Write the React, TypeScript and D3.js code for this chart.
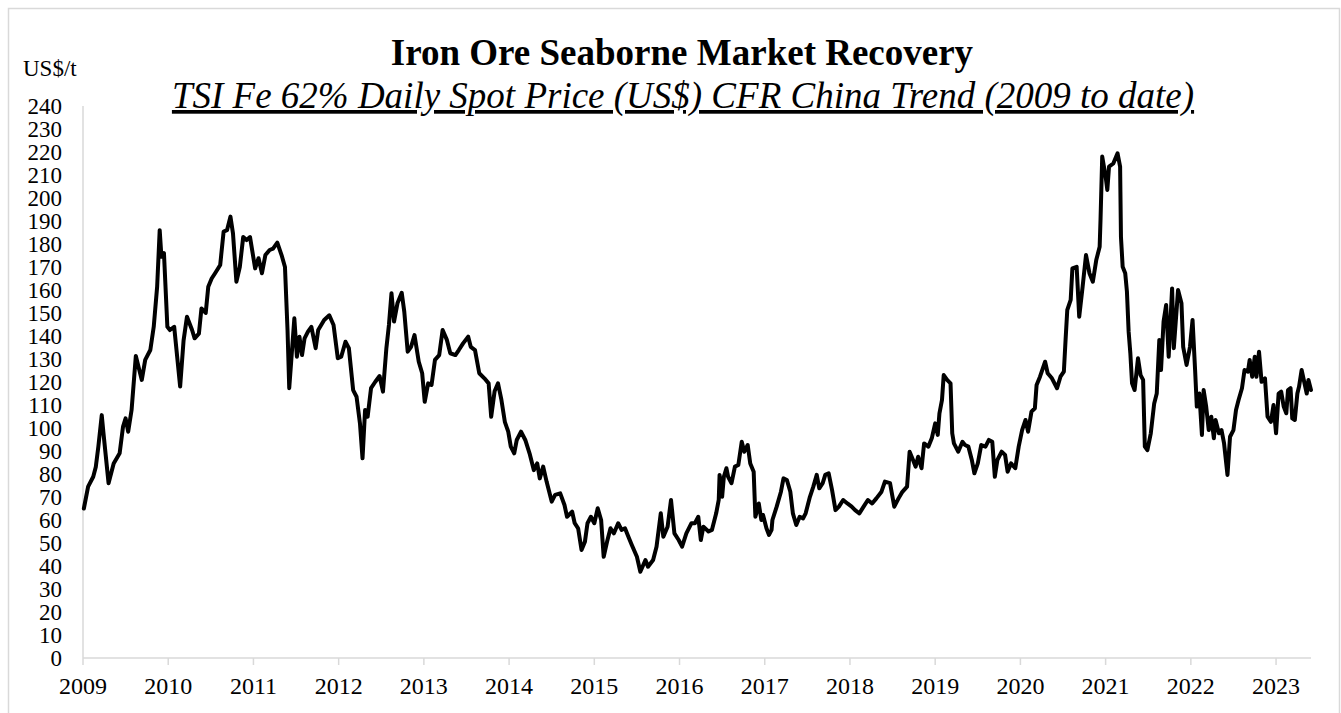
import React from "react";
import * as d3 from "d3";

const title = "Iron Ore Seaborne Market Recovery";
const subtitle = "TSI Fe 62% Daily Spot Price (US$) CFR China Trend (2009 to date)";
const unitLabel = "US$/t";

const yearTicks = [2009, 2010, 2011, 2012, 2013, 2014, 2015, 2016, 2017, 2018, 2019, 2020, 2021, 2022, 2023];
const valueTicks = [0, 10, 20, 30, 40, 50, 60, 70, 80, 90, 100, 110, 120, 130, 140, 150, 160, 170, 180, 190, 200, 210, 220, 230, 240];

// decimal-year dates and spot prices (US$/t)
const dates = [
  2009.01, 2009.06, 2009.12, 2009.15, 2009.18, 2009.22, 2009.24, 2009.30, 2009.36, 2009.43,
  2009.47, 2009.50, 2009.53, 2009.57, 2009.62, 2009.69, 2009.73, 2009.79, 2009.83, 2009.87,
  2009.90, 2009.92, 2009.95, 2009.99, 2010.02, 2010.07, 2010.14, 2010.18, 2010.22, 2010.28,
  2010.31, 2010.36, 2010.39, 2010.44, 2010.47, 2010.51, 2010.55, 2010.61, 2010.65, 2010.69,
  2010.73, 2010.76, 2010.80, 2010.84, 2010.88, 2010.92, 2010.96, 2011.02, 2011.06, 2011.10,
  2011.14, 2011.19, 2011.23, 2011.28, 2011.33, 2011.37, 2011.40, 2011.42,
  2011.45, 2011.48, 2011.51, 2011.54, 2011.57, 2011.60, 2011.64, 2011.68, 2011.73, 2011.76,
  2011.83, 2011.89, 2011.94, 2011.99, 2012.03, 2012.08, 2012.12, 2012.17, 2012.21, 2012.25,
  2012.28, 2012.31, 2012.34, 2012.38, 2012.43, 2012.48, 2012.52, 2012.56, 2012.59, 2012.62,
  2012.65, 2012.69, 2012.74, 2012.77, 2012.81, 2012.85, 2012.89, 2012.94, 2012.98, 2013.01,
  2013.05, 2013.09, 2013.13, 2013.18, 2013.22, 2013.27, 2013.31, 2013.37, 2013.41, 2013.46,
  2013.52, 2013.55, 2013.60, 2013.65, 2013.71, 2013.76, 2013.79, 2013.83,
  2013.87, 2013.91, 2013.95, 2013.99, 2014.02, 2014.06, 2014.09, 2014.14, 2014.19, 2014.24,
  2014.29, 2014.33, 2014.36, 2014.40, 2014.44, 2014.50, 2014.54, 2014.60, 2014.65, 2014.68,
  2014.74, 2014.77, 2014.81, 2014.85, 2014.89, 2014.92, 2014.96, 2015.00, 2015.04, 2015.08,
  2015.11, 2015.15, 2015.19, 2015.23, 2015.28, 2015.32, 2015.36, 2015.40, 2015.44, 2015.50,
  2015.54, 2015.60, 2015.63, 2015.69, 2015.73, 2015.78, 2015.81, 2015.86, 2015.90, 2015.94,
  2015.99, 2016.03, 2016.08, 2016.14,
  2016.18, 2016.22, 2016.25, 2016.28, 2016.34, 2016.38, 2016.43, 2016.46, 2016.47, 2016.50,
  2016.52, 2016.55, 2016.57, 2016.61, 2016.65, 2016.69, 2016.73, 2016.76, 2016.80, 2016.83,
  2016.87, 2016.89, 2016.93, 2016.96, 2016.98, 2017.02, 2017.05, 2017.08, 2017.09, 2017.14,
  2017.19, 2017.22, 2017.26, 2017.30, 2017.33, 2017.37, 2017.41, 2017.45, 2017.48, 2017.53,
  2017.57, 2017.61, 2017.64, 2017.68, 2017.71, 2017.75, 2017.79, 2017.83, 2017.87, 2017.92,
  2017.97, 2018.02, 2018.06, 2018.11, 2018.16, 2018.21, 2018.26, 2018.31, 2018.37, 2018.41,
  2018.47, 2018.52, 2018.57, 2018.61, 2018.67,
  2018.70, 2018.74, 2018.77, 2018.80, 2018.84, 2018.87, 2018.92, 2018.96, 2019.00, 2019.03,
  2019.05, 2019.08, 2019.10, 2019.14, 2019.18, 2019.20, 2019.22, 2019.27, 2019.32, 2019.35,
  2019.39, 2019.43, 2019.46, 2019.50, 2019.54, 2019.59, 2019.63, 2019.67, 2019.70, 2019.73,
  2019.78, 2019.82, 2019.85, 2019.89, 2019.94, 2019.98, 2020.02, 2020.06, 2020.09, 2020.13,
  2020.17, 2020.19, 2020.23, 2020.29, 2020.32, 2020.37, 2020.43, 2020.47, 2020.51, 2020.53,
  2020.55, 2020.59, 2020.61, 2020.66, 2020.69, 2020.73, 2020.77, 2020.81, 2020.85, 2020.89,
  2020.93, 2020.94, 2020.96, 2021.00, 2021.02,
  2021.04, 2021.09, 2021.14, 2021.17, 2021.18, 2021.20, 2021.23, 2021.25, 2021.27, 2021.29,
  2021.31, 2021.34, 2021.38, 2021.41, 2021.44, 2021.46, 2021.49, 2021.53, 2021.57, 2021.60,
  2021.63, 2021.65, 2021.68, 2021.71, 2021.74, 2021.78, 2021.80, 2021.83, 2021.85, 2021.89,
  2021.91, 2021.95, 2021.99, 2022.02, 2022.05, 2022.07, 2022.10, 2022.13, 2022.15, 2022.18,
  2022.21, 2022.24, 2022.27, 2022.29, 2022.33, 2022.36, 2022.39, 2022.43, 2022.46, 2022.50,
  2022.53, 2022.56, 2022.60, 2022.63, 2022.67, 2022.69, 2022.72, 2022.75, 2022.77, 2022.80,
  2022.83, 2022.87, 2022.90, 2022.94, 2022.97, 2023.00, 2023.03, 2023.06, 2023.09, 2023.12,
  2023.14, 2023.17, 2023.19, 2023.22, 2023.25, 2023.27, 2023.30, 2023.33, 2023.36, 2023.38,
  2023.41,
];

const prices = [
  65, 74.5, 78.8, 83, 91.9, 105.6, 97.8, 76, 84.6, 89,
  100.6, 104.2, 98.4, 107.8, 131.3, 120.9, 129.6, 133.9, 144, 161.4,
  186, 174.5, 176, 144, 142.6, 144, 118, 138, 148.4, 142.6,
  139, 141, 152, 150, 161.4, 165, 167.3, 170.9, 185.4, 186,
  191.9, 184.6, 163.6, 170, 183, 181.7, 183, 169.4, 173.8, 167.3,
  175.2, 177.4, 178, 180.6, 175.2, 170, 142.6, 117.3,
  132.5, 147.7, 131, 139.7, 131.7, 139, 141.9, 144, 134.7, 142.6,
  147, 149, 144.8, 130.3, 131, 137.5, 134.7, 116.5, 113.6, 102,
  86.8, 107.8, 104.9, 117.3, 120.1, 122.6, 115.8, 134.7, 144.8, 158.6,
  146.3, 154.2, 158.8, 150.6, 133.2, 135.3, 140.4, 128.8, 123.8, 111.4,
  119.4, 118.7, 129.6, 131.7, 142.6, 138.3, 132.5, 131.7, 133.9, 136.8,
  139.7, 135.3, 133.9, 123.8, 121.6, 119.4, 104.9, 116,
  119.4, 112.2, 102.7, 98.4, 91.9, 89, 94.8, 98.4, 94.8, 89,
  81.7, 84.6, 78.1, 83.2, 76.7, 68, 70.9, 71.6, 66.5, 61.4,
  63.6, 58.6, 56.4, 47, 50.6, 58.6, 61.4, 58.6, 65.1, 60,
  44, 50.6, 56.4, 54.2, 58.6, 55.7, 56.4, 52.7, 49.1, 44,
  37.5, 42.6, 39.7, 42.6, 48.4, 62.9, 52.7, 57.1, 68.7, 54.2,
  51.3, 48.4, 54.2, 58.6,
  58.6, 61.4, 51.3, 57.1, 55, 55.7, 62.9, 68.7, 79.6, 70.1,
  78.8, 82.5, 78.8, 76, 83.2, 83.9, 94, 89.7, 92.6, 84.6,
  81, 61.4, 67.2, 60, 62.2, 56.4, 53.5, 55.7, 60, 65.8,
  72.3, 78.1, 77.4, 72.3, 62.9, 57.8, 61.4, 60.7, 62.9, 70.1,
  74.5, 79.6, 73.8, 76, 79.6, 80.3, 73, 64.3, 65.8, 68.7,
  67.2, 65.8, 64.3, 62.9, 65.8, 68.7, 67.2, 69.4, 72.3, 76.7,
  76, 65.8, 69.4, 72, 74.5,
  89.7, 86.1, 83.2, 87.5, 82.5, 93.3, 91.9, 95.5, 102, 97,
  106.4, 112.2, 123, 120.9, 119.4, 97.7, 93.3, 89.7, 94, 92.6,
  91.9, 86.1, 80.3, 84.6, 92.6, 91.9, 94.8, 94, 78.8, 86.1,
  89.7, 88.3, 81, 84.6, 82.5, 91.9, 99.1, 103.5, 98.4, 107.1,
  108.6, 118.7, 122.3, 128.8, 123.8, 121.6, 117.3, 122.3, 124.5, 138.3,
  151.3, 155.7, 169.4, 170.1, 148.4, 161.4, 175.2, 167.3, 163.6, 173,
  178.8, 190.4, 218, 209.3, 203.5,
  213.6, 215, 219.4, 213.6, 183, 170.1, 167.3, 159.3, 141.9, 132.5,
  119.4, 116.5, 130.3, 123, 120.9, 91.9, 90.4, 97.7, 110.7, 115,
  138.3, 125.2, 146.3, 153.5, 131, 160.7, 134.7, 149.9, 160, 154.2,
  135.3, 127.4, 135.3, 147, 125.2, 109.3, 115, 97, 116.5, 109.3,
  99.1, 104.9, 95.5, 103.5, 97.7, 99.1, 93.3, 79.6, 96.2, 99.1,
  107.8, 112.2, 117.3, 125.2, 124.5, 129.6, 122.3, 131, 122.3, 133.2,
  120.1, 121.6, 104.9, 102.7, 110, 97.7, 115, 115.8, 109.3, 106.4,
  116.5, 117.3, 104.2, 103.5, 115, 118, 125.2, 120.1, 115, 120.9,
  116.5,
];

const W = 1341;
const H = 713;
const plotLeft = 83;
const plotRight = 1311;
const plotTop = 106;
const plotBottom = 658;
const axisColor = "#d9d9d9";
const serif = "'Liberation Serif', 'Times New Roman', Times, serif";

export default function App() {
  const x = d3.scaleLinear().domain([2009, 2023.41]).range([plotLeft, plotRight]);
  const y = d3.scaleLinear().domain([0, 240]).range([plotBottom, plotTop]);

  const points: [number, number][] = dates.map((d, i) => [d, prices[i]]);
  const line = d3
    .line<[number, number]>()
    .x((d) => x(d[0]))
    .y((d) => y(d[1]));

  return (
    <svg
      width={W}
      height={H}
      style={{ position: "absolute", left: 0, top: 0, background: "#fff" }}
      fontFamily={serif}
    >
      <rect x={8.5} y={8.5} width={1331} height={730} fill="#fff" stroke={axisColor} strokeWidth={1.5} />

      <text x={682} y={65} textAnchor="middle" fontSize={37} fontWeight="bold" fill="#000">
        {title}
      </text>
      <text
        x={683}
        y={108}
        textAnchor="middle"
        fontSize={37}
        fontStyle="italic"
        textDecoration="underline"
        fill="#000"
      >
        {subtitle}
      </text>
      <text x={23} y={76} fontSize={23} fill="#000">
        {unitLabel}
      </text>

      {/* y axis */}
      <line x1={plotLeft} x2={plotLeft} y1={plotTop} y2={plotBottom} stroke={axisColor} strokeWidth={1.5} />
      {valueTicks.map((v) => (
        <text key={v} x={62} y={y(v)} dy="0.34em" textAnchor="end" fontSize={23} fill="#000">
          {v}
        </text>
      ))}

      {/* x axis */}
      <line x1={plotLeft} x2={plotRight} y1={plotBottom} y2={plotBottom} stroke={axisColor} strokeWidth={1.5} />
      {yearTicks.map((yr) => (
        <g key={yr}>
          <line x1={x(yr)} x2={x(yr)} y1={plotBottom} y2={plotBottom + 7} stroke={axisColor} strokeWidth={1.5} />
          <text x={x(yr)} y={694} textAnchor="middle" fontSize={24} fill="#000">
            {yr}
          </text>
        </g>
      ))}

      <path
        d={line(points) || ""}
        fill="none"
        stroke="#000"
        strokeWidth={4}
        strokeLinejoin="round"
        strokeLinecap="round"
      />
    </svg>
  );
}
